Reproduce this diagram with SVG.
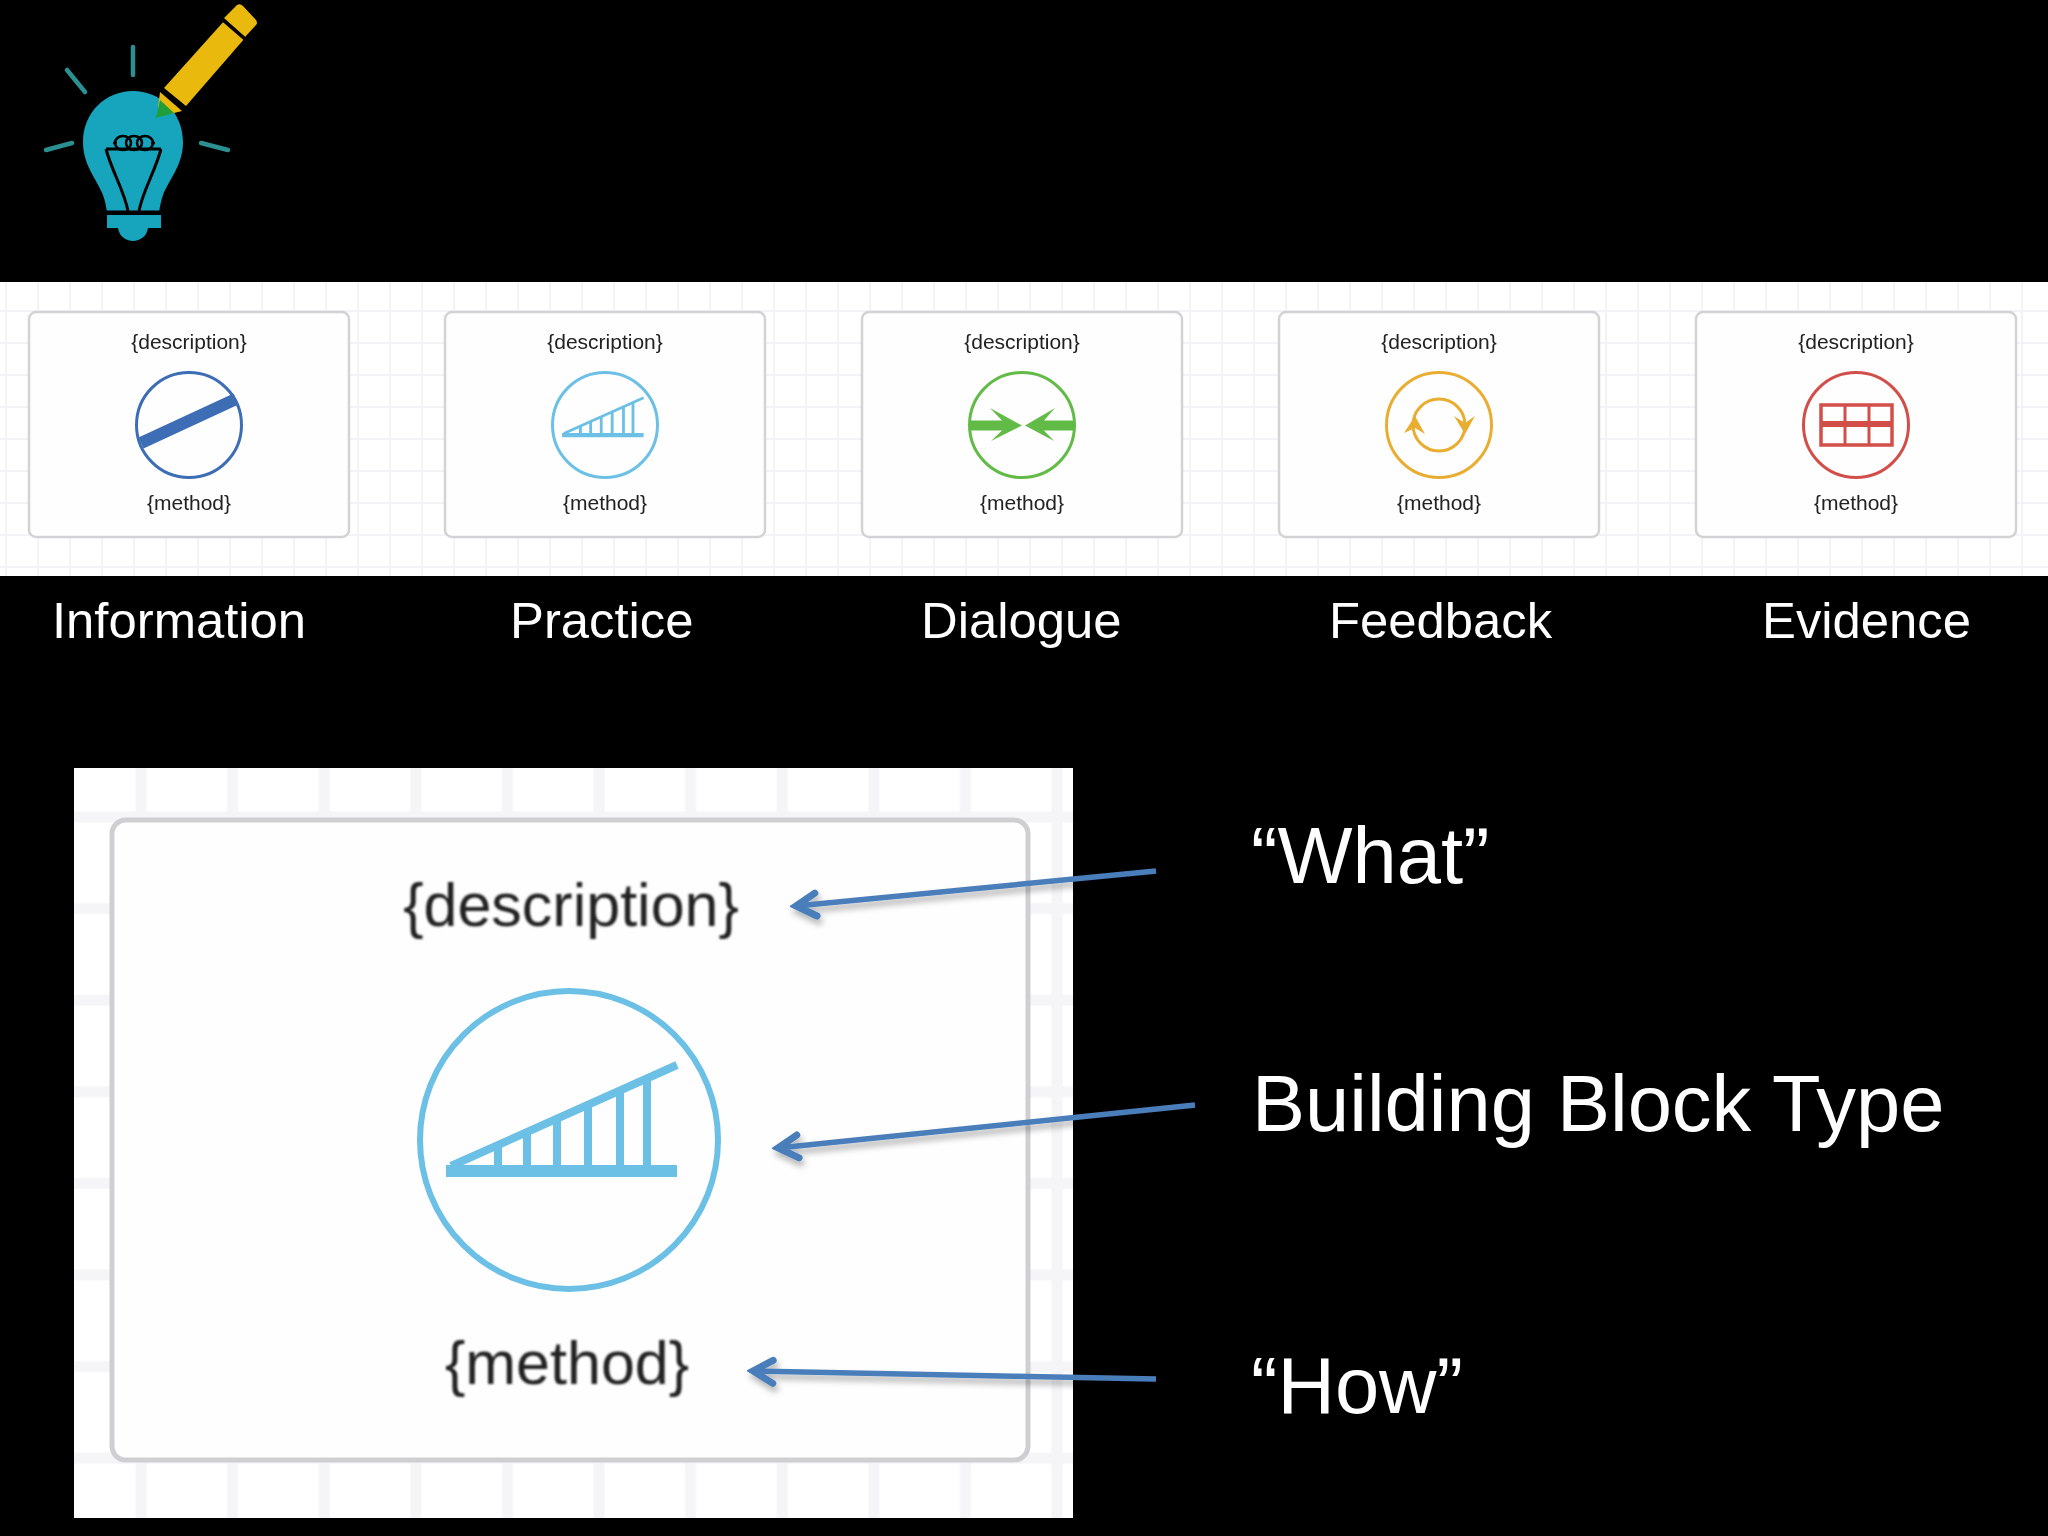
<svg xmlns="http://www.w3.org/2000/svg" xmlns:xlink="http://www.w3.org/1999/xlink" width="2048" height="1536" viewBox="0 0 2048 1536">
<style>
text{font-family:"Liberation Sans",Arial,sans-serif}
.small{font-size:21px;fill:#222;text-anchor:middle;filter:url(#b1)}
.big{font-size:61px;fill:#222;text-anchor:middle;filter:url(#b2)}
.lbl{font-size:50.8px;fill:#fff}
.cap{font-size:79.5px;fill:#fff}
.card{fill:#fefefe;stroke:#d3d2d7;stroke-width:2.5;filter:url(#b1)}
.icon{filter:url(#b1)}
.ring{fill:none;stroke-width:3}
.arr{fill:none;stroke:#4a7ebb;stroke-width:5.5;marker-end:url(#ah);filter:url(#sh)}
</style>
<defs>
<filter id="b1" x="-10%" y="-30%" width="120%" height="160%"><feGaussianBlur stdDeviation="0.5"/></filter>
<filter id="b2" x="-10%" y="-30%" width="120%" height="160%"><feGaussianBlur stdDeviation="1.3"/></filter>
<filter id="b3" x="-10%" y="-10%" width="120%" height="120%"><feGaussianBlur stdDeviation="0.7"/></filter>
<filter id="sh" filterUnits="userSpaceOnUse" x="700" y="820" width="560" height="620"><feDropShadow dx="2" dy="5" stdDeviation="3" flood-color="#000" flood-opacity="0.3"/></filter>
<pattern id="g1" x="4" y="21" width="32" height="32" patternUnits="userSpaceOnUse"><path d="M2,0V32M0,2H32" stroke="#f3f2f6" stroke-width="2" fill="none"/></pattern>
<pattern id="g2" x="131" y="807" width="91.6" height="91.6" patternUnits="userSpaceOnUse"><path d="M10,0V91.6M0,10H91.6" stroke="#f5f5f8" stroke-width="11" fill="none"/></pattern>
<marker id="ah" markerUnits="userSpaceOnUse" viewBox="-30 -18 36 36" refX="0" refY="0" markerWidth="36" markerHeight="36" orient="auto"><path d="M-20,-12 L0,0 L-20,11" fill="none" stroke="#4a7ebb" stroke-width="7" stroke-linecap="round" stroke-linejoin="miter"/></marker>
<g id="ramp"><path d="M-116,46 H115" stroke="#6cc0e5" stroke-width="12" fill="none"/><path d="M-111,41 L115,-60" stroke="#6cc0e5" stroke-width="8" fill="none"/><path d="M-64,20V46M-35,7V46M-5,-6V46M26,-20V46M58,-35V46M85,-47V46" stroke="#6cc0e5" stroke-width="8" fill="none"/></g>
</defs>
<rect width="2048" height="1536" fill="#000"/>

<g id="logo">
<g stroke="#2a9092" stroke-width="4.5" stroke-linecap="round" fill="none"><path d="M133,47V75M67,70L85,92M46,150L72,143M201,143L228,150"/></g>
<path d="M133,91C160,91 183,112 183,142C183,165 170,178 163,195C161,201 160,206 159,212H107C106,206 105,201 103,195C96,178 83,165 83,142C83,112 106,91 133,91Z" fill="#17a5bd"/>
<path d="M107,215H161V228H148C147,236 140,241 133,241C126,241 119,236 118,228H107Z" fill="#17a5bd"/>
<path d="M106,212H161" stroke="#000" stroke-width="3" fill="none"/>
<path d="M106,149H161M106,149C112,172 124,190 128,211M161,149C155,172 143,190 139,211" stroke="#000" stroke-width="3" fill="none"/>
<g fill="none" stroke="#000" stroke-width="2.5"><ellipse cx="123" cy="143" rx="8" ry="7"/><ellipse cx="134" cy="143" rx="8" ry="7"/><ellipse cx="145" cy="143" rx="8" ry="7"/><path d="M113,143H117M151,143H155"/></g>
<path d="M164,88 L225,20 L245,38 L186,106Z" fill="#e9b90d"/>
<path d="M224,18 L237,5 Q240,3 243,6 L256,20 Q258,23 256,25 L245,37Z" fill="#e9b90d"/>
<path d="M223,20 L245,39" stroke="#000" stroke-width="3.5" fill="none"/>
<path d="M163,90 L184,109" stroke="#000" stroke-width="3.5" fill="none"/>
<path d="M160,92 L182,111 L170,114 L158,108Z" fill="#e9b90d"/>
<path d="M160,100 L174,113 L156,118Z" fill="#1f9e3a"/>
</g>

<g id="strip">
<rect x="0" y="282" width="2048" height="294" fill="#fff"/>
<rect x="0" y="282" width="2048" height="294" fill="url(#g1)"/>
</g>

<g id="card-information">
<rect class="card" x="29" y="312" width="320" height="225" rx="7"/>
<text class="small" x="189" y="349">{description}</text>
<circle class="ring icon" cx="189" cy="425" r="52.5" stroke="#3c6db5"/>
<path class="icon" d="M141,443L236,399" stroke="#3c6db5" stroke-width="12" fill="none"/>
<text class="small" x="189" y="510">{method}</text>
</g>
<text class="lbl" x="52" y="638">Information</text>

<g id="card-practice">
<rect class="card" x="445" y="312" width="320" height="225" rx="7"/>
<text class="small" x="605" y="349">{description}</text>
<circle class="ring icon" cx="605" cy="425" r="52.5" stroke="#6cc0e5"/>
<use class="icon" xlink:href="#ramp" href="#ramp" transform="translate(603,419) scale(0.353)"/>
<text class="small" x="605" y="510">{method}</text>
</g>
<text class="lbl" x="510" y="638">Practice</text>

<g id="card-dialogue">
<rect class="card" x="862" y="312" width="320" height="225" rx="7"/>
<text class="small" x="1022" y="349">{description}</text>
<circle class="ring icon" cx="1022" cy="425" r="52.5" stroke="#62bb46"/>
<path class="icon" d="M970,420.500H1002L990,408L1022,425.500L991,441L1002,430.500H970ZM1074,420.500H1044L1055,408L1025,425.500L1054,441L1044,430.500H1074Z" fill="#62bb46"/>
<text class="small" x="1022" y="510">{method}</text>
</g>
<text class="lbl" x="921" y="638">Dialogue</text>

<g id="card-feedback">
<rect class="card" x="1279" y="312" width="320" height="225" rx="7"/>
<text class="small" x="1439" y="349">{description}</text>
<circle class="ring icon" cx="1439" cy="425" r="52.5" stroke="#e9ad33"/>
<circle class="ring icon" cx="1439" cy="425" r="26" stroke="#e9ad33"/>
<path class="icon" d="M1404,433L1415,416L1425,434L1415,428ZM1454,416L1465,434L1475,416L1465,423Z" fill="#e9ad33"/>
<text class="small" x="1439" y="510">{method}</text>
</g>
<text class="lbl" x="1329" y="638">Feedback</text>

<g id="card-evidence">
<rect class="card" x="1696" y="312" width="320" height="225" rx="7"/>
<text class="small" x="1856" y="349">{description}</text>
<circle class="ring icon" cx="1856" cy="425" r="52.5" stroke="#d2504a"/>
<g class="icon" fill="none" stroke="#d2504a"><rect x="1821" y="405" width="71" height="40" stroke-width="3.5"/><path d="M1821,424H1892" stroke-width="6"/><path d="M1845,405V445M1869,405V445" stroke-width="3"/></g>
<text class="small" x="1856" y="510">{method}</text>
</g>
<text class="lbl" x="1762" y="638">Evidence</text>

<g id="panel">
<rect x="74" y="768" width="999" height="750" fill="#fff"/>
<rect x="74" y="768" width="999" height="750" fill="url(#g2)"/>
</g>
<g id="card-detail">
<rect x="112" y="820" width="916" height="640" rx="14" fill="#fefefe" stroke="#cfced2" stroke-width="5" filter="url(#b3)"/>
<text class="big" x="571" y="926">{description}</text>
<g filter="url(#b3)">
<circle cx="569" cy="1140" r="149" fill="none" stroke="#6cc0e5" stroke-width="6"/>
<use xlink:href="#ramp" href="#ramp" transform="translate(562,1125)"/>
</g>
<text class="big" x="567" y="1384">{method}</text>
</g>

<g id="connectors">
<path class="arr" d="M1156,871L796,906"/>
<path class="arr" d="M1195,1105L778,1148"/>
<path class="arr" d="M1156,1379L753,1371"/>
</g>

<text class="cap" x="1251" y="883">“What”</text>
<text class="cap" x="1252" y="1131">Building Block Type</text>
<text class="cap" x="1251" y="1413">“How”</text>
</svg>
